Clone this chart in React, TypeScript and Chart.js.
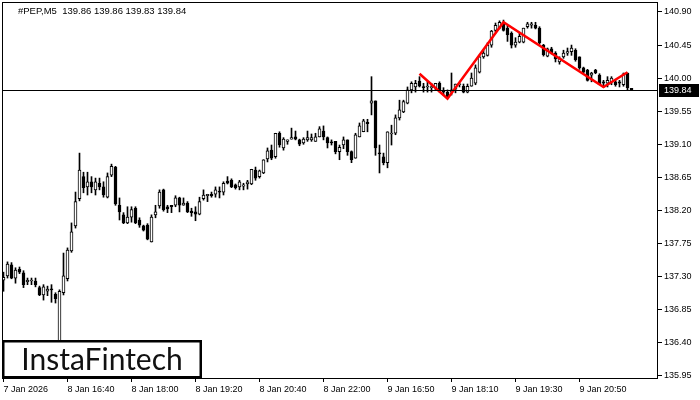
import React, { useEffect, useRef } from "react";
import { Chart, registerables } from "chart.js";

Chart.register(...registerables);

const symbolLabel = "#PEP,M5";
const brandLabel = "InstaFintech";

const opens = [
  137.25, 137.31, 137.46, 137.28, 137.40, 137.35, 137.23, 137.24, 137.24, 137.15,
  137.05, 137.10, 137.13, 137.06, 136.37, 137.08, 137.27, 137.65, 137.99, 138.36,
  138.66, 138.52, 138.59, 138.48, 138.57, 138.52, 138.38, 138.68, 138.79, 138.27,
  138.14, 138.03, 138.11, 138.23, 138.07, 137.99, 138.00, 137.77, 138.14, 138.26,
  138.48, 138.25, 138.27, 138.27, 138.37, 138.27, 138.30, 138.19, 138.18, 138.15,
  138.36, 138.40, 138.42, 138.42, 138.46, 138.45, 138.60, 138.61, 138.55, 138.52,
  138.53, 138.56, 138.56, 138.75, 138.66, 138.71, 138.90, 139.02, 138.93, 139.25,
  139.05, 139.14, 139.17, 139.20, 139.16, 139.12, 139.16, 139.16, 139.14, 139.20,
  139.28, 139.19, 139.13, 139.14, 139.00, 139.09, 139.16, 139.00, 138.91, 139.20,
  139.27, 139.40, 139.66, 139.69, 138.98, 138.93, 138.85, 139.24, 139.25, 139.46,
  139.54, 139.66, 139.84, 139.88, 139.96, 139.88, 139.88, 139.87, 139.87, 139.93,
  139.83, 139.81, 139.81, 139.85, 139.91, 139.89, 139.81, 139.89, 139.93, 140.08,
  140.29, 140.31, 140.45, 140.65, 140.68, 140.76, 140.68, 140.61, 140.45, 140.49,
  140.49, 140.70, 140.72, 140.72, 140.68, 140.45, 140.30, 140.40, 140.34, 140.22,
  140.29, 140.34, 140.36, 140.38, 140.29, 140.14, 140.11, 140.04, 140.11, 140.04,
  139.95, 139.93, 139.95, 139.95, 139.95, 139.91, 140.07, 139.86,
];

const highs = [
  137.36, 137.50, 137.49, 137.42, 137.43, 137.38, 137.28, 137.28, 137.28, 137.17,
  137.19, 137.17, 137.19, 137.08, 137.12, 137.62, 137.69, 138.03, 138.45, 138.98,
  138.72, 138.72, 138.66, 138.64, 138.64, 138.59, 138.71, 138.83, 138.80, 138.37,
  138.17, 138.25, 138.25, 138.25, 138.10, 138.00, 138.02, 138.14, 138.27, 138.48,
  138.49, 138.27, 138.27, 138.40, 138.38, 138.37, 138.32, 138.23, 138.25, 138.38,
  138.48, 138.42, 138.45, 138.52, 138.52, 138.59, 138.66, 138.63, 138.56, 138.61,
  138.57, 138.61, 138.76, 138.79, 138.75, 138.89, 139.05, 139.09, 139.25, 139.27,
  139.19, 139.16, 139.32, 139.28, 139.17, 139.19, 139.28, 139.24, 139.25, 139.34,
  139.35, 139.20, 139.16, 139.14, 139.09, 139.20, 139.16, 139.01, 139.25, 139.39,
  139.44, 139.44, 140.02, 139.69, 139.09, 138.98, 139.27, 139.36, 139.50, 139.70,
  139.70, 139.88, 139.95, 139.97, 140.02, 139.93, 139.95, 139.93, 139.93, 139.95,
  139.87, 139.84, 140.07, 139.92, 139.93, 139.92, 139.92, 140.07, 140.18, 140.31,
  140.38, 140.48, 140.65, 140.75, 140.78, 140.79, 140.71, 140.63, 140.55, 140.61,
  140.68, 140.76, 140.76, 140.76, 140.70, 140.46, 140.41, 140.42, 140.36, 140.29,
  140.38, 140.41, 140.45, 140.40, 140.29, 140.15, 140.12, 140.08, 140.12, 140.06,
  139.97, 140.02, 140.02, 139.97, 139.97, 140.07, 140.07, 139.86,
];

const lows = [
  137.10, 137.28, 137.27, 137.21, 137.34, 137.15, 137.19, 137.19, 137.16, 137.04,
  136.98, 137.04, 136.95, 136.94, 136.30, 137.05, 137.24, 137.63, 137.96, 138.33,
  138.44, 138.41, 138.44, 138.41, 138.48, 138.38, 138.37, 138.66, 138.27, 138.07,
  138.02, 138.02, 138.04, 138.02, 137.97, 137.92, 137.80, 137.77, 138.10, 138.23,
  138.19, 138.17, 138.17, 138.25, 138.18, 138.27, 138.17, 138.12, 138.06, 138.14,
  138.34, 138.32, 138.38, 138.38, 138.37, 138.41, 138.56, 138.51, 138.49, 138.48,
  138.48, 138.49, 138.55, 138.61, 138.64, 138.70, 138.86, 138.89, 138.91, 139.06,
  139.02, 139.10, 139.17, 139.16, 139.08, 139.10, 139.14, 139.14, 139.14, 139.20,
  139.16, 139.05, 139.09, 138.97, 138.89, 139.04, 138.95, 138.85, 138.91, 139.20,
  139.27, 139.27, 139.50, 138.95, 138.71, 138.82, 138.78, 139.09, 139.23, 139.43,
  139.53, 139.65, 139.80, 139.81, 139.88, 139.81, 139.81, 139.81, 139.83, 139.81,
  139.77, 139.73, 139.77, 139.80, 139.88, 139.80, 139.80, 139.89, 139.91, 140.07,
  140.27, 140.30, 140.42, 140.63, 140.67, 140.64, 140.50, 140.41, 140.42, 140.48,
  140.48, 140.68, 140.68, 140.67, 140.46, 140.30, 140.29, 140.33, 140.22, 140.19,
  140.27, 140.31, 140.31, 140.23, 140.12, 140.07, 139.96, 139.95, 140.06, 139.91,
  139.88, 139.88, 139.91, 139.89, 139.88, 139.89, 139.84, 139.83,
];

const closes = [
  137.29, 137.47, 137.28, 137.39, 137.36, 137.19, 137.25, 137.25, 137.19, 137.05,
  137.16, 137.13, 137.12, 137.00, 137.10, 137.31, 137.66, 137.91, 138.32, 138.75,
  138.51, 138.59, 138.52, 138.59, 138.52, 138.41, 138.66, 138.80, 138.29, 138.18,
  138.03, 138.11, 138.21, 138.03, 138.00, 137.93, 137.81, 138.11, 138.18, 138.45,
  138.21, 138.22, 138.25, 138.37, 138.27, 138.30, 138.18, 138.17, 138.15, 138.32,
  138.41, 138.42, 138.40, 138.48, 138.45, 138.57, 138.57, 138.52, 138.51, 138.59,
  138.55, 138.59, 138.76, 138.64, 138.74, 138.89, 139.01, 138.91, 139.25, 139.09,
  139.17, 139.16, 139.19, 139.17, 139.10, 139.17, 139.19, 139.19, 139.20, 139.31,
  139.20, 139.12, 139.12, 139.00, 139.06, 139.16, 139.00, 138.89, 139.23, 139.35,
  139.42, 139.38, 139.69, 139.05, 138.97, 138.85, 139.27, 139.25, 139.46, 139.57,
  139.68, 139.84, 139.93, 139.93, 139.89, 139.87, 139.89, 139.88, 139.93, 139.83,
  139.81, 139.74, 139.84, 139.92, 139.92, 139.81, 139.89, 140.00, 140.14, 140.29,
  140.34, 140.45, 140.64, 140.72, 140.76, 140.65, 140.59, 140.45, 140.49, 140.57,
  140.68, 140.74, 140.74, 140.68, 140.48, 140.32, 140.40, 140.34, 140.26, 140.27,
  140.34, 140.36, 140.41, 140.25, 140.14, 140.08, 139.97, 140.07, 140.07, 139.91,
  139.93, 139.97, 140.00, 139.91, 139.93, 140.06, 139.87, 139.84,
];

const xTickIndex = [0, 16, 32, 48, 64, 80, 96, 112, 128, 144];
const xTickLabels = [
  "7 Jan 2026", "8 Jan 16:40", "8 Jan 18:00", "8 Jan 19:20", "8 Jan 20:40",
  "8 Jan 22:00", "9 Jan 16:50", "9 Jan 18:10", "9 Jan 19:30", "9 Jan 20:50",
];
const yTicks = [135.95, 136.40, 136.85, 137.30, 137.75, 138.20, 138.65, 139.10, 139.55, 140.00, 140.45, 140.90];

const patternIndex = [104, 111, 125, 150, 156];
const patternPrice = [140.06, 139.72, 140.76, 139.88, 140.08];

const FONT = "'Liberation Sans', Arial, sans-serif";

export default function App() {
  const ref = useRef<HTMLCanvasElement | null>(null);

  useEffect(() => {
    document.body.style.margin = "0";
    document.body.style.background = "#ffffff";
    const canvas = ref.current;
    if (!canvas) return;

    const n = closes.length;
    const last = n - 1;

    const overlay = {
      id: "overlay",
      beforeDraw(chart: any) {
        const ctx = chart.ctx;
        ctx.save();
        ctx.fillStyle = "#ffffff";
        ctx.fillRect(0, 0, chart.width, chart.height);
        ctx.restore();
      },
      afterDatasetsDraw(chart: any) {
        const { ctx, chartArea: a, scales } = chart;
        const py = Math.round(scales.y.getPixelForValue(closes[last])) + 0.5;
        ctx.save();
        ctx.strokeStyle = "#000000";
        ctx.lineWidth = 1;
        ctx.beginPath();
        ctx.moveTo(a.left, py);
        ctx.lineTo(a.right, py);
        ctx.stroke();
        ctx.restore();
      },
      afterDraw(chart: any) {
        const { ctx, chartArea: a, scales } = chart;
        ctx.save();
        // frame
        ctx.strokeStyle = "#000000";
        ctx.lineWidth = 1;
        ctx.strokeRect(a.left + 0.5, a.top + 0.5, a.right - a.left - 1, a.bottom - a.top);
        // header
        ctx.fillStyle = "#000000";
        ctx.font = "9.5px " + FONT;
        ctx.textBaseline = "middle";
        ctx.textAlign = "left";
        const hdr =
          symbolLabel + "  " +
          [opens[last], highs[last], lows[last], closes[last]].map((v) => v.toFixed(2)).join(" ");
        ctx.fillText(hdr, 18, 11);
        // price tag
        const py = Math.round(scales.y.getPixelForValue(closes[last]));
        ctx.fillStyle = "#000000";
        ctx.fillRect(a.right + 1, py - 6, 40, 13);
        ctx.fillStyle = "#ffffff";
        ctx.font = "9px " + FONT;
        ctx.fillText(closes[last].toFixed(2), a.right + 6, py + 0.5);
        // logo
        ctx.fillStyle = "#ffffff";
        ctx.fillRect(3, 341, 198, 37);
        ctx.strokeStyle = "#000000";
        ctx.lineWidth = 2.5;
        ctx.strokeRect(3.25, 341.25, 197.5, 36);
        ctx.fillStyle = "#111111";
        ctx.font = "30px Lato, 'Open Sans', sans-serif";
        ctx.textAlign = "center";
        ctx.textBaseline = "middle";
        ctx.fillText(brandLabel, 102, 360);
        ctx.restore();
      },
    };

    const bodyData = opens.map((o, i) => ({ x: i, y: [o, closes[i]] }));
    const wickData = lows.map((l, i) => ({ x: i, y: [l, highs[i]] }));
    const bodyColors = opens.map((o, i) => (closes[i] >= o ? "#ffffff" : "#000000"));

    const chart = new Chart(canvas, {
      type: "bar",
      data: {
        datasets: [
          {
            type: "line",
            data: patternIndex.map((x, k) => ({ x, y: patternPrice[k] })),
            borderColor: "#ff0000",
            borderWidth: 2.5,
            pointRadius: 0,
            tension: 0,
            fill: false,
            order: -1,
          } as any,
          {
            type: "bar",
            data: bodyData as any,
            backgroundColor: bodyColors,
            borderColor: "#000000",
            borderWidth: 1,
            borderSkipped: false,
            barThickness: 3,
            minBarLength: 1,
            grouped: false,
            order: 0,
          } as any,
          {
            type: "bar",
            data: wickData as any,
            backgroundColor: "#000000",
            borderWidth: 0,
            barThickness: 1,
            grouped: false,
            order: 1,
          } as any,
        ],
      },
      options: {
        animation: false,
        responsive: false,
        devicePixelRatio: 1,
        layout: { padding: { left: 2, top: 2, right: 0, bottom: 0 } },
        plugins: { legend: { display: false }, tooltip: { enabled: false } },
        scales: {
          x: {
            type: "linear",
            min: -0.375,
            max: 163.625,
            offset: false,
            grid: { display: true, drawOnChartArea: false, drawTicks: true, tickLength: 4, color: "#000000", offset: false },
            border: { display: false },
            afterBuildTicks: (s: any) => {
              s.ticks = xTickIndex.map((v) => ({ value: v }));
            },
            afterFit: (s: any) => {
              s.height = 22;
              s.paddingLeft = 0;
              s.paddingRight = 0;
            },
            ticks: {
              autoSkip: false,
              maxRotation: 0,
              minRotation: 0,
              align: "start",
              padding: 2,
              color: "#000000",
              font: { family: FONT, size: 9 },
              callback: (v: any) => {
                const k = xTickIndex.indexOf(Number(v));
                return k >= 0 ? xTickLabels[k] : "";
              },
            },
          } as any,
          y: {
            type: "linear",
            position: "right",
            min: 135.92,
            max: 141.036,
            grid: { display: true, drawOnChartArea: false, drawTicks: true, tickLength: 4, color: "#000000" },
            border: { display: false },
            afterBuildTicks: (s: any) => {
              s.ticks = yTicks.map((v) => ({ value: v }));
            },
            afterFit: (s: any) => {
              s.width = 42;
              s.paddingTop = 0;
              s.paddingBottom = 0;
            },
            ticks: {
              padding: 2,
              color: "#000000",
              font: { family: FONT, size: 9 },
              callback: (v: any) => Number(v).toFixed(2),
            },
          } as any,
        },
      },
      plugins: [overlay],
    });

    return () => chart.destroy();
  }, []);

  return (
    <div style={{ width: 700, height: 400 }}>
      <canvas ref={ref} width={700} height={400} style={{ display: "block", width: 700, height: 400 }} />
    </div>
  );
}
